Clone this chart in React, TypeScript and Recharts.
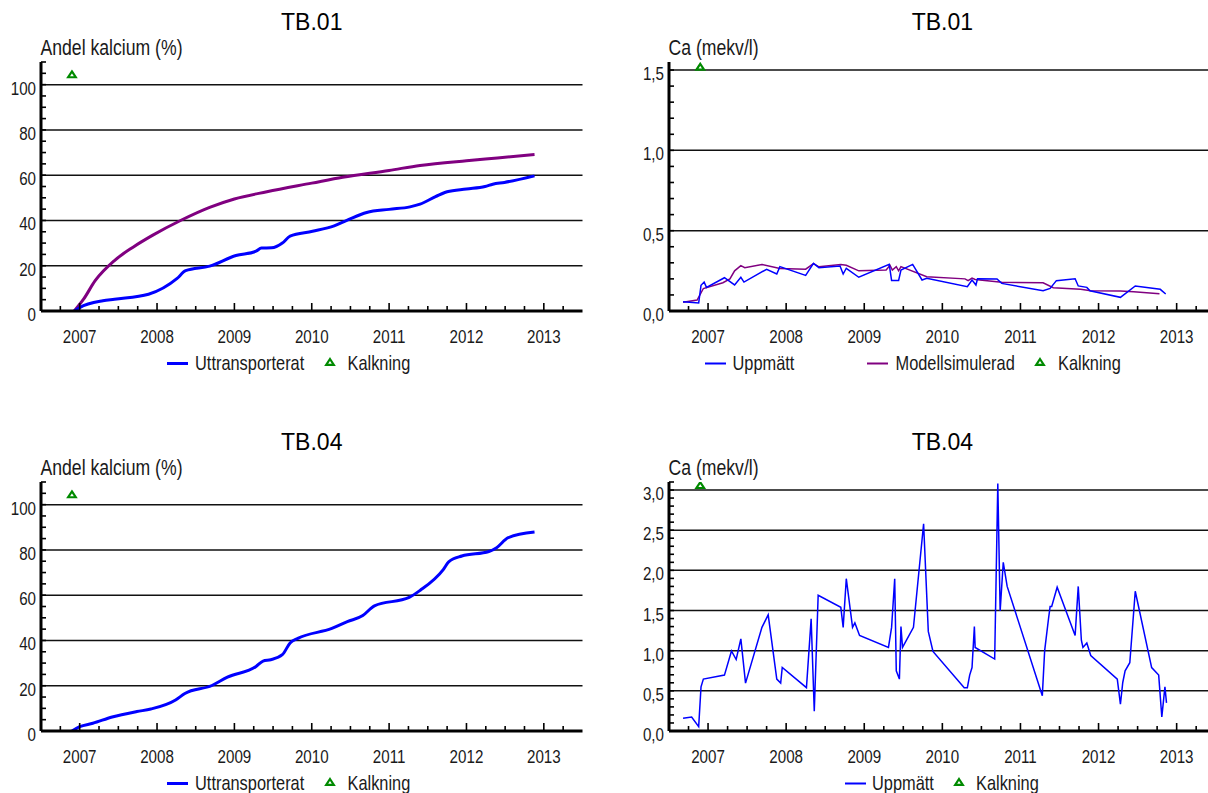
import { ComposedChart, Line, ReferenceLine, Scatter, XAxis, YAxis } from "recharts";

const SANS = "'Liberation Sans', Arial, sans-serif";
const BLUE = "#0000ff";
const PURPLE = "#800080";
const GREEN = "#008a00";
const INK = "#1a1a1a";
// No narrow face is installed, so the condensed look of the original is faked
// by squeezing regular Liberation Sans horizontally.
const SQUEEZE = 0.82;

// x axis: decimal years, quarter ticks, labels on whole years
const xDomain = [2006.5, 2013.5];
const xTicks = [
  2006.75, 2007, 2007.25, 2007.5, 2007.75, 2008, 2008.25, 2008.5, 2008.75, 2009, 2009.25, 2009.5,
  2009.75, 2010, 2010.25, 2010.5, 2010.75, 2011, 2011.25, 2011.5, 2011.75, 2012, 2012.25, 2012.5,
  2012.75, 2013, 2013.25,
];

// y ticks
const pctTicks = [0, 5, 10, 15, 20, 25, 30, 35, 40, 45, 50, 55, 60, 65, 70, 75, 80, 85, 90, 95, 100, 105, 110];
const pctLabelValues = [0, 20, 40, 60, 80, 100];
const pctLabels = ["0", "20", "40", "60", "80", "100"];
const pctGrid = [20, 40, 60, 80, 100];

const ca01Ticks = [0, 0.1, 0.2, 0.3, 0.4, 0.5, 0.6, 0.7, 0.8, 0.9, 1, 1.1, 1.2, 1.3, 1.4, 1.5];
const ca01LabelValues = [0, 0.5, 1, 1.5];
const ca01Labels = ["0,0", "0,5", "1,0", "1,5"];
const ca01Grid = [0.5, 1, 1.5];

const ca04Ticks = [
  0, 0.1, 0.2, 0.3, 0.4, 0.5, 0.6, 0.7, 0.8, 0.9, 1, 1.1, 1.2, 1.3, 1.4, 1.5, 1.6, 1.7, 1.8, 1.9, 2,
  2.1, 2.2, 2.3, 2.4, 2.5, 2.6, 2.7, 2.8, 2.9, 3, 3.1,
];
const ca04LabelValues = [0, 0.5, 1, 1.5, 2, 2.5, 3];
const ca04Labels = ["0,0", "0,5", "1,0", "1,5", "2,0", "2,5", "3,0"];
const ca04Grid = [0.5, 1, 1.5, 2, 2.5, 3];

// Kalkning (liming) date
const kalkningYear = 2006.9;

// TB.01 - andel kalcium (%)
const tb01UttrYears = [
  2006.93, 2007.0, 2007.3, 2007.45, 2007.89, 2008.26, 2008.37, 2008.68, 2009.02, 2009.28, 2009.35,
  2009.48, 2009.62, 2009.72, 2010.01, 2010.29, 2010.46, 2010.71, 2011.0, 2011.27, 2011.4, 2011.6,
  2011.75, 2012.0, 2012.24, 2012.34, 2012.49, 2012.88,
];
const tb01Uttr = [
  0, 1.5, 4.5, 5.2, 7.4, 14.4, 17.8, 19.8, 24.5, 26.4, 27.8, 27.9, 30, 33.1, 35.2, 37.6, 40.1, 43.5,
  44.9, 46, 47.2, 50.5, 52.7, 53.9, 55, 56, 56.8, 59.7,
];
const tb01ModYears = [
  2006.93, 2007.05, 2007.2, 2007.45, 2007.69, 2007.94, 2008.31, 2008.68, 2009.0, 2009.42, 2010.0,
  2010.4, 2011.0, 2011.4, 2012.0, 2012.4, 2012.88,
];
const tb01Mod = [0, 5.2, 13.4, 22.3, 28.2, 33.4, 40.1, 45.8, 49.5, 52.7, 56.5, 59.1, 62.1, 64.3, 66.4, 67.6, 69.1];

// TB.01 - Ca (mekv/l)
const tb01CaYears = [
  2006.68, 2006.88, 2006.91, 2006.95, 2006.98, 2007.21, 2007.34, 2007.42, 2007.46, 2007.75, 2007.88,
  2007.92, 2008.25, 2008.35, 2008.42, 2008.69, 2008.73, 2008.77, 2008.93, 2009.32, 2009.35, 2009.44,
  2009.47, 2009.62, 2009.74, 2009.8, 2010.32, 2010.38, 2010.43, 2010.45, 2010.7, 2010.76, 2011.29,
  2011.38, 2011.46, 2011.7, 2011.74, 2011.85, 2011.89, 2012.28, 2012.47, 2012.79, 2012.86,
];
const tb01Ca = [
  0.058, 0.05, 0.16, 0.18, 0.147, 0.207, 0.162, 0.21, 0.18, 0.26, 0.23, 0.276, 0.222, 0.297, 0.27,
  0.28, 0.23, 0.266, 0.21, 0.29, 0.19, 0.19, 0.255, 0.29, 0.193, 0.203, 0.151, 0.193, 0.162, 0.2,
  0.199, 0.172, 0.126, 0.141, 0.189, 0.201, 0.156, 0.147, 0.126, 0.085, 0.156, 0.135, 0.106,
];
const tb01CaModYears = [
  2006.68, 2006.86, 2006.94, 2007.19, 2007.28, 2007.34, 2007.42, 2007.47, 2007.69, 2007.92, 2008.25,
  2008.35, 2008.42, 2008.7, 2008.77, 2008.93, 2009.28, 2009.33, 2009.36, 2009.41, 2009.44, 2009.47,
  2009.8, 2010.29, 2010.33, 2010.38, 2010.42, 2010.76, 2011.29, 2011.42, 2011.77, 2011.9, 2012.28,
  2012.45, 2012.78,
];
const tb01CaMod = [
  0.055, 0.068, 0.14, 0.176, 0.2, 0.25, 0.282, 0.27, 0.29, 0.265, 0.26, 0.295, 0.275, 0.29, 0.285,
  0.25, 0.255, 0.284, 0.255, 0.276, 0.25, 0.276, 0.213, 0.2, 0.189, 0.205, 0.196, 0.179, 0.176, 0.145,
  0.135, 0.126, 0.124, 0.12, 0.108,
];

// TB.04 - andel kalcium (%)
const tb04UttrYears = [
  2006.9, 2007.0, 2007.17, 2007.42, 2007.74, 2007.92, 2008.24, 2008.36, 2008.71, 2008.91, 2009.28,
  2009.37, 2009.47, 2009.62, 2009.72, 2009.82, 2010.26, 2010.46, 2010.66, 2010.81, 2011.26, 2011.4,
  2011.7, 2011.77, 2011.94, 2012.29, 2012.39, 2012.54, 2012.88,
];
const tb04Uttr = [
  0, 1.9, 3.4, 6.2, 8.6, 9.7, 13.7, 16.6, 20.1, 23.8, 28.5, 30.9, 31.5, 33.7, 38.9, 40.9, 45.3, 48.3,
  51, 55.3, 59, 62.1, 71.3, 74.7, 77.3, 79.3, 81, 85.4, 87.9,
];

// TB.04 - Ca (mekv/l)
const tb04CaYears = [
  2006.68, 2006.79, 2006.88, 2006.91, 2006.94, 2007.21, 2007.3, 2007.36, 2007.42, 2007.48, 2007.69,
  2007.77, 2007.88, 2007.93, 2007.95, 2008.26, 2008.32, 2008.36, 2008.41, 2008.7, 2008.73, 2008.77,
  2008.85, 2008.88, 2008.94, 2009.31, 2009.35, 2009.39, 2009.41, 2009.45, 2009.47, 2009.49, 2009.63,
  2009.76, 2009.82, 2009.88, 2010.28, 2010.32, 2010.35, 2010.38, 2010.41, 2010.42, 2010.67, 2010.71,
  2010.74, 2010.78, 2010.83, 2011.28, 2011.31, 2011.36, 2011.38, 2011.4, 2011.47, 2011.7, 2011.74,
  2011.78, 2011.8, 2011.85, 2011.9, 2012.24, 2012.28, 2012.31, 2012.34, 2012.4, 2012.47, 2012.68,
  2012.77, 2012.81, 2012.85, 2012.87,
];
const tb04Ca = [
  0.16, 0.175, 0.054, 0.55, 0.646, 0.696, 0.996, 0.89, 1.146, 0.596, 1.29, 1.446, 0.646, 0.596, 0.79,
  0.54, 1.396, 0.246, 1.69, 1.54, 1.29, 1.896, 1.29, 1.346, 1.19, 1.04, 1.29, 1.896, 0.75, 0.646, 1.3,
  1.04, 1.29, 2.58, 1.24, 0.99, 0.54, 0.54, 0.696, 0.79, 1.3, 1.04, 0.896, 3.08, 1.496, 2.1, 1.8,
  0.44, 1.0, 1.404, 1.55, 1.55, 1.79, 1.19, 1.8, 1.13, 1.04, 1.096, 0.94, 0.646, 0.333, 0.604, 0.75,
  0.85, 1.74, 0.79, 0.696, 0.175, 0.55, 0.35,
];

type Pt = { t: number; v: number };
const zip = (ts: number[], vs: number[]): Pt[] => ts.map((t, i) => ({ t, v: vs[i] }));

type Series = { data: Pt[]; color: string; width: number; curve: "monotone" | "linear" };
type LegendEntry = { kind: "line" | "marker"; x: number; textX: number; label: string; color?: string; width?: number };

function Narrow({ x, y, size, anchor = "start", children }: any) {
  return (
    <text
      transform={`translate(${x} ${y}) scale(${SQUEEZE} 1)`}
      textAnchor={anchor}
      fontFamily={SANS}
      fontSize={size}
      fill={INK}
    >
      {children}
    </text>
  );
}

function XTick({ x, y, payload }: any) {
  const v = payload.value;
  const major = Number.isInteger(v);
  return (
    <g>
      <line x1={x} x2={x} y1={y} y2={y - (major ? 8 : 5)} stroke="#000" strokeWidth={1.6} />
      {major && (
        <Narrow x={x} y={y + 31.5} size={18.5} anchor="middle">
          {v}
        </Narrow>
      )}
    </g>
  );
}

function makeYTick(labelValues: number[], labels: string[]) {
  return ({ x, y, payload }: any) => {
    const idx = labelValues.findIndex((lv) => Math.abs(lv - payload.value) < 1e-6);
    return (
      <g>
        <line x1={x} x2={x + 5} y1={y} y2={y} stroke="#000" strokeWidth={1.6} />
        {idx >= 0 && (
          <Narrow x={x - 5} y={y + 10} size={18.5} anchor="end">
            {labels[idx]}
          </Narrow>
        )}
      </g>
    );
  };
}

function Kalk({ cx, cy }: any) {
  if (cx == null || cy == null) return null;
  return (
    <polygon
      points={`${cx},${cy - 3} ${cx + 3.8},${cy + 2.8} ${cx - 3.8},${cy + 2.8}`}
      fill="#fff"
      stroke={GREEN}
      strokeWidth={2.2}
    />
  );
}

function Panel(props: {
  left: number;
  top: number;
  width: number;
  axisW: number;
  plotW: number;
  title: string;
  yTitle: string;
  yMax: number;
  yTicks: number[];
  yLabelValues: number[];
  yLabels: string[];
  grid: number[];
  series: Series[];
  kalkY: number;
  legend: LegendEntry[];
}) {
  const H = 380;
  const plotTop = 62;
  const plotBottom = 311;
  const xAxisH = 40;
  const { left, top, width, axisW, plotW } = props;
  const YTick = makeYTick(props.yLabelValues, props.yLabels);
  return (
    <div style={{ position: "absolute", left, top, width, height: H }}>
      <ComposedChart
        width={width}
        height={H}
        margin={{ top: plotTop, right: width - axisW - plotW, bottom: H - plotBottom - xAxisH, left: 0 }}
      >
        <XAxis
          type="number"
          dataKey="t"
          domain={xDomain}
          ticks={xTicks}
          interval={0}
          allowDataOverflow
          height={xAxisH}
          tickSize={0}
          tickMargin={0}
          tickLine={false}
          axisLine={{ stroke: "#000", strokeWidth: 3 }}
          tick={(p: any) => <XTick {...p} />}
        />
        <YAxis
          type="number"
          dataKey="v"
          domain={[0, props.yMax]}
          ticks={props.yTicks}
          interval={0}
          allowDataOverflow
          width={axisW}
          tickSize={0}
          tickMargin={0}
          tickLine={false}
          axisLine={{ stroke: "#000", strokeWidth: 3 }}
          tick={(p: any) => <YTick {...p} />}
        />
        {props.grid.map((g) => (
          <ReferenceLine key={g} y={g} stroke="#111" strokeWidth={1.5} />
        ))}
        {props.series.map((s, i) => (
          <Line
            key={i}
            data={s.data}
            dataKey="v"
            type={s.curve}
            stroke={s.color}
            strokeWidth={s.width}
            dot={false}
            activeDot={false}
            isAnimationActive={false}
          />
        ))}
        <Scatter
          data={[{ t: kalkningYear, v: props.kalkY }]}
          dataKey="v"
          shape={(p: any) => <Kalk {...p} />}
          isAnimationActive={false}
        />
      </ComposedChart>
      <svg
        width={width}
        height={H}
        style={{ position: "absolute", left: 0, top: 0, pointerEvents: "none", overflow: "visible" }}
      >
        <text x={axisW + plotW / 2} y={30} textAnchor="middle" fontFamily={SANS} fontSize={23} fill="#000">
          {props.title}
        </text>
        <Narrow x={axisW - 0.5} y={55} size={21.5}>
          {props.yTitle}
        </Narrow>
        {props.legend.map((e, i) => (
          <g key={i}>
            {e.kind === "line" ? (
              <line x1={e.x} x2={e.x + 21} y1={363.5} y2={363.5} stroke={e.color} strokeWidth={e.width} />
            ) : (
              <Kalk cx={e.x} cy={362} />
            )}
            <Narrow x={e.textX} y={369.5} size={20}>
              {e.label}
            </Narrow>
          </g>
        ))}
      </svg>
    </div>
  );
}

export default function App() {
  const pctLegend: LegendEntry[] = [
    { kind: "line", x: 167, textX: 195, label: "Uttransporterat", color: BLUE, width: 3 },
    { kind: "marker", x: 330, textX: 347.5, label: "Kalkning" },
  ];
  return (
    <div
      style={{
        position: "absolute",
        left: 0,
        top: 0,
        width: 1208,
        height: 793,
        overflow: "hidden",
        background: "#fff",
      }}
    >
      <Panel
        left={0}
        top={0}
        width={600}
        axisW={41}
        plotW={541.5}
        title="TB.01"
        yTitle="Andel kalcium (%)"
        yMax={110}
        yTicks={pctTicks}
        yLabelValues={pctLabelValues}
        yLabels={pctLabels}
        grid={pctGrid}
        kalkY={104.5}
        series={[
          { data: zip(tb01ModYears, tb01Mod), color: PURPLE, width: 3, curve: "monotone" },
          { data: zip(tb01UttrYears, tb01Uttr), color: BLUE, width: 3, curve: "monotone" },
        ]}
        legend={pctLegend}
      />
      <Panel
        left={604}
        top={0}
        width={620}
        axisW={65}
        plotW={546.7}
        title="TB.01"
        yTitle="Ca (mekv/l)"
        yMax={1.55}
        yTicks={ca01Ticks}
        yLabelValues={ca01LabelValues}
        yLabels={ca01Labels}
        grid={ca01Grid}
        kalkY={1.52}
        series={[
          { data: zip(tb01CaModYears, tb01CaMod), color: PURPLE, width: 1.5, curve: "linear" },
          { data: zip(tb01CaYears, tb01Ca), color: BLUE, width: 1.5, curve: "linear" },
        ]}
        legend={[
          { kind: "line", x: 101, textX: 128.5, label: "Uppmätt", color: BLUE, width: 2 },
          { kind: "line", x: 263, textX: 291.5, label: "Modellsimulerad", color: PURPLE, width: 2 },
          { kind: "marker", x: 436, textX: 454, label: "Kalkning" },
        ]}
      />
      <Panel
        left={0}
        top={420}
        width={600}
        axisW={41}
        plotW={541.5}
        title="TB.04"
        yTitle="Andel kalcium (%)"
        yMax={110}
        yTicks={pctTicks}
        yLabelValues={pctLabelValues}
        yLabels={pctLabels}
        grid={pctGrid}
        kalkY={104.5}
        series={[{ data: zip(tb04UttrYears, tb04Uttr), color: BLUE, width: 3, curve: "monotone" }]}
        legend={pctLegend}
      />
      <Panel
        left={604}
        top={420}
        width={620}
        axisW={65}
        plotW={546.7}
        title="TB.04"
        yTitle="Ca (mekv/l)"
        yMax={3.1}
        yTicks={ca04Ticks}
        yLabelValues={ca04LabelValues}
        yLabels={ca04Labels}
        grid={ca04Grid}
        kalkY={3.06}
        series={[{ data: zip(tb04CaYears, tb04Ca), color: BLUE, width: 1.5, curve: "linear" }]}
        legend={[
          { kind: "line", x: 241, textX: 268, label: "Uppmätt", color: BLUE, width: 2 },
          { kind: "marker", x: 355, textX: 372, label: "Kalkning" },
        ]}
      />
    </div>
  );
}
